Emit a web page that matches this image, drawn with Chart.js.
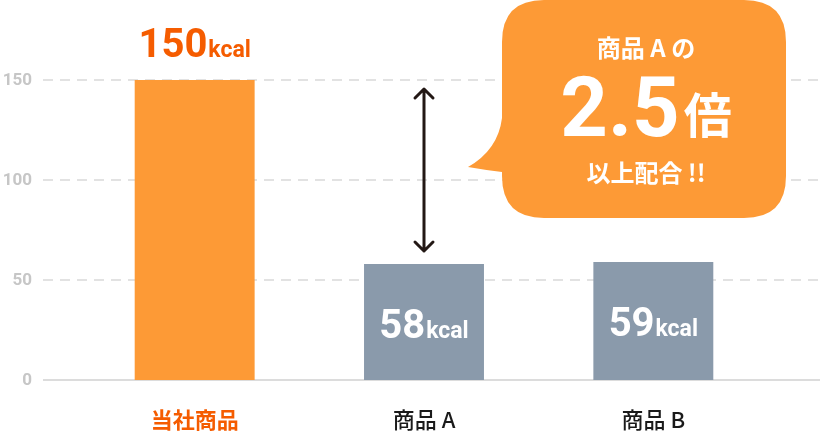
<!DOCTYPE html>
<html>
<head>
<meta charset="utf-8">
<script src="https://cdn.jsdelivr.net/npm/chart.js@4"></script>
<style>
  html, body { margin: 0; padding: 0; background: #fff; }
  #wrap { width: 820px; height: 432px; position: relative; }
</style>
</head>
<body>
<div id="wrap"><canvas id="chart"></canvas></div>
<script>
// data
const categories = ['当社商品', '商品 A', '商品 B'];
const kcalValues = [150, 58, 59];
const yTicks = [0, 50, 100, 150];
const barColors = ['#fd9a36', '#8a9aab', '#8a9aab'];
const labelColors = ['#f55c00', '#1a1a1a', '#1a1a1a'];

const NUM_FONT = 'Roboto, "Noto Sans CJK JP", sans-serif';
const JP_FONT = '"Noto Sans CJK JP", Roboto, sans-serif';

// gridlines, value labels, arrow and callout
const decorPlugin = {
  id: 'decor',
  beforeDatasetsDraw(chart) {
    const ctx = chart.ctx;
    const y = chart.scales.y;
    ctx.save();
    yTicks.forEach(v => {
      const py = Math.round(y.getPixelForValue(v));
      ctx.beginPath();
      if (v === 0) {
        ctx.setLineDash([]);
        ctx.strokeStyle = '#dcdcdc';
      } else {
        ctx.setLineDash([10, 7]);
        ctx.strokeStyle = '#e2e2e2';
      }
      ctx.lineWidth = 2;
      ctx.moveTo(43, py);
      ctx.lineTo(820, py);
      ctx.stroke();
      // tick label
      ctx.setLineDash([]);
      ctx.fillStyle = '#c6c6c6';
      ctx.font = 'bold 17px ' + NUM_FONT;
      ctx.textAlign = 'right';
      ctx.textBaseline = 'middle';
      ctx.fillText(String(v), 32, py + 1);
    });
    ctx.restore();
  },
  afterDatasetsDraw(chart) {
    const ctx = chart.ctx;
    const meta = chart.getDatasetMeta(0);
    const y = chart.scales.y;
    ctx.save();

    // value labels
    meta.data.forEach((bar, i) => {
      const num = String(kcalValues[i]);
      const big = 'bold 40px ' + NUM_FONT;
      const small = 'bold 23px ' + NUM_FONT;
      ctx.font = big;
      const w1 = ctx.measureText(num).width;
      ctx.font = small;
      const w2 = ctx.measureText('kcal').width;
      const gap = 1;
      const total = w1 + gap + w2;
      let base, color;
      if (i === 0) {
        base = bar.y - 23;
        color = '#f55c00';
      } else {
        base = y.getPixelForValue(kcalValues[i]) + 74;
        color = '#ffffff';
      }
      const x0 = bar.x - total / 2;
      ctx.fillStyle = color;
      ctx.textAlign = 'left';
      ctx.textBaseline = 'alphabetic';
      ctx.font = big;
      ctx.fillText(num, x0, base);
      ctx.font = small;
      ctx.fillText('kcal', x0 + w1 + gap, base);
    });

    // double arrow between 150 and 58
    const ax = meta.data[1].x;
    const top = y.getPixelForValue(kcalValues[0]) + 9;
    const bot = y.getPixelForValue(kcalValues[1]) - 13;
    ctx.strokeStyle = '#231815';
    ctx.lineWidth = 3;
    ctx.lineCap = 'round';
    ctx.lineJoin = 'round';
    ctx.beginPath();
    ctx.moveTo(ax, top);
    ctx.lineTo(ax, bot);
    ctx.moveTo(ax - 9, top + 9);
    ctx.lineTo(ax, top);
    ctx.lineTo(ax + 9, top + 9);
    ctx.moveTo(ax - 9, bot - 9);
    ctx.lineTo(ax, bot);
    ctx.lineTo(ax + 9, bot - 9);
    ctx.stroke();

    // callout bubble
    const bx = 502, by = 0, bw = 284, bh = 218, r = 42;
    ctx.fillStyle = '#fd9a36';
    ctx.beginPath();
    ctx.moveTo(bx + r, by);
    ctx.lineTo(bx + bw - r, by);
    ctx.quadraticCurveTo(bx + bw, by, bx + bw, by + r);
    ctx.lineTo(bx + bw, by + bh - r);
    ctx.quadraticCurveTo(bx + bw, by + bh, bx + bw - r, by + bh);
    ctx.lineTo(bx + r, by + bh);
    ctx.quadraticCurveTo(bx, by + bh, bx, by + bh - r);
    ctx.lineTo(bx, 172);
    ctx.quadraticCurveTo(485, 170, 468, 167);
    ctx.quadraticCurveTo(498, 150, bx, 118);
    ctx.lineTo(bx, by + r);
    ctx.quadraticCurveTo(bx, by, bx + r, by);
    ctx.closePath();
    ctx.fill();

    const cx = 646;
    ctx.fillStyle = '#ffffff';
    ctx.textBaseline = 'alphabetic';
    ctx.textAlign = 'center';
    ctx.font = 'bold 24px ' + JP_FONT;
    ctx.fillText('商品 A の', cx, 57);
    ctx.fillText('以上配合 !!', cx, 182);
    // 2.5倍
    const f1 = 'bold 83px ' + NUM_FONT;
    const f2 = 'bold 48px ' + JP_FONT;
    ctx.font = f1;
    const t1 = ctx.measureText('2.5').width;
    ctx.font = f2;
    const t2 = ctx.measureText('倍').width;
    const sx = cx - (t1 + 4 + t2) / 2;
    ctx.textAlign = 'left';
    ctx.font = f1;
    ctx.fillText('2.5', sx, 136);
    ctx.font = f2;
    ctx.fillText('倍', sx + t1 + 4, 133);

    ctx.restore();
  }
};

new Chart(document.getElementById('chart'), {
  type: 'bar',
  data: {
    labels: categories,
    datasets: [{
      data: kcalValues,
      backgroundColor: barColors,
      borderWidth: 0,
      barPercentage: 0.523,
      categoryPercentage: 1
    }]
  },
  options: {
    responsive: true,
    maintainAspectRatio: false,
    animation: false,
    layout: { padding: { left: 80, right: 52, top: 0, bottom: 0 } },
    plugins: {
      legend: { display: false },
      tooltip: { enabled: false }
    },
    scales: {
      y: {
        min: 0,
        max: 190,
        display: false
      },
      x: {
        afterFit: (scale) => { scale.height = 52; },
        grid: { display: false, drawTicks: false },
        border: { display: false },
        ticks: {
          padding: 26,
          color: labelColors,
          font: (c) => ({
            family: JP_FONT,
            size: 22,
            weight: c.index === 0 ? 'bold' : '500'
          })
        }
      }
    }
  },
  plugins: [decorPlugin]
});
</script>
</body>
</html>
